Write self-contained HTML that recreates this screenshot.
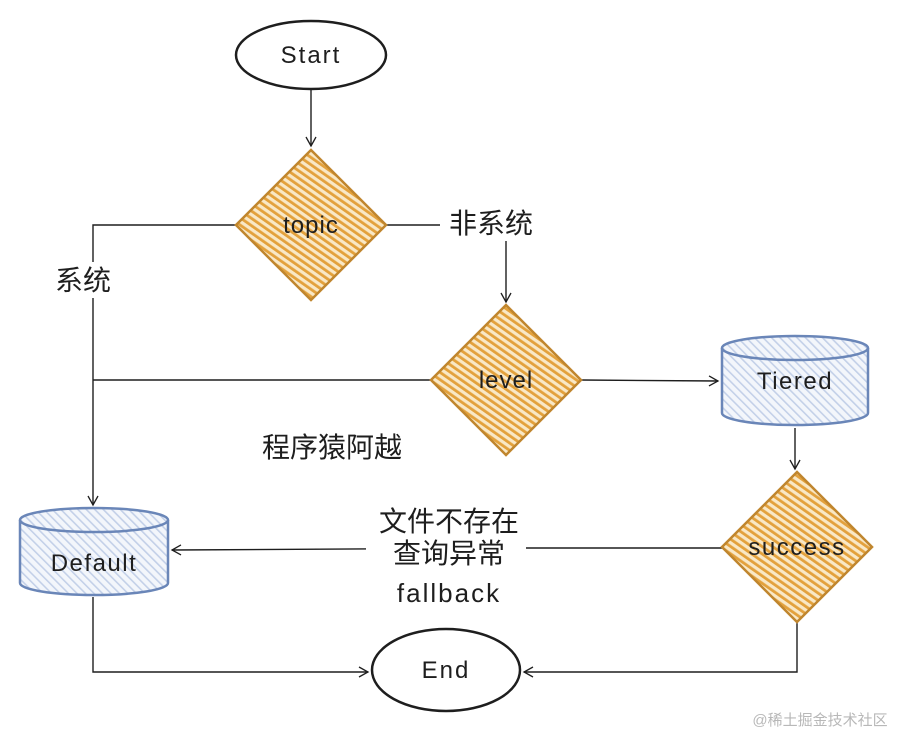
<!DOCTYPE html>
<html><head><meta charset="utf-8"><style>
html,body{margin:0;padding:0;background:#fff;}
svg text{font-family:"Liberation Sans","Noto Sans CJK SC",sans-serif;fill:#1e1e1e;}
</style></head><body>
<svg width="904" height="736" viewBox="0 0 904 736" xmlns="http://www.w3.org/2000/svg">
<defs>
<pattern id="ho" width="6" height="6" patternUnits="userSpaceOnUse" patternTransform="rotate(-55)">
<rect width="6" height="6" fill="#f9e8c6"/><rect width="2.8" height="6" fill="#e3a13c"/></pattern>
<pattern id="hb" width="6" height="6" patternUnits="userSpaceOnUse" patternTransform="rotate(-45)">
<rect width="6" height="6" fill="#f3f6fb"/><rect width="1.6" height="6" fill="#c3d0e8"/></pattern>
<marker id="a" markerWidth="12" markerHeight="12" refX="10" refY="6" orient="auto" markerUnits="userSpaceOnUse">
<path d="M1,1 L10,6 L1,11" fill="none" stroke="#1e1e1e" stroke-width="1.3"/></marker>
</defs>
<g fill="none" stroke="#1e1e1e" stroke-width="1.4">
<path d="M311,90 L311,146" marker-end="url(#a)"/>
<path d="M236,225 L93,225 L93,505" marker-end="url(#a)"/>
<path d="M386,225 L440,225"/>
<path d="M540,225 L506,225 L506,302" marker-end="url(#a)"/>
<path d="M431,380 L93,380"/>
<path d="M581,380 L718,381" marker-end="url(#a)"/>
<path d="M795,428 L795,469" marker-end="url(#a)"/>
<path d="M722,548 L370,548"/><path d="M525,548 L172,550" marker-end="url(#a)"/>
<path d="M93,597 L93,672 L368,672" marker-end="url(#a)"/>
<path d="M797,622 L797,672 L524,672" marker-end="url(#a)"/>
</g>
<rect x="366" y="505" width="160" height="104" fill="#fff"/>
<rect x="440" y="205" width="100" height="36" fill="#fff"/>
<rect x="50" y="262" width="70" height="36" fill="#fff"/>
<ellipse cx="311" cy="55" rx="75" ry="34" fill="#fff" stroke="#1e1e1e" stroke-width="2.5"/>
<text x="311" y="63" font-size="24" letter-spacing="2" text-anchor="middle">Start</text>
<ellipse cx="446" cy="670" rx="74" ry="41" fill="#fff" stroke="#1e1e1e" stroke-width="2.5"/>
<text x="446" y="678" font-size="24" letter-spacing="2" text-anchor="middle">End</text>
<g stroke="#c0862e" stroke-width="2.5" fill="url(#ho)">
<path d="M311,150 L386,225 L311,300 L236,225 Z"/>
<path d="M506,305 L581,380 L506,455 L431,380 Z"/>
<path d="M797,472 L872,547 L797,622 L722,547 Z"/>
</g>
<text x="311" y="233" font-size="24" letter-spacing="1" text-anchor="middle">topic</text>
<text x="506" y="388" font-size="24" letter-spacing="1" text-anchor="middle">level</text>
<text x="797" y="555" font-size="24" letter-spacing="1.5" text-anchor="middle">success</text>
<g stroke="#6a86b8" stroke-width="2.5" fill="url(#hb)">
<path d="M722,348 L722,413 A73,12 0 0 0 868,413 L868,348 A73,12 0 0 0 722,348 Z"/>
<path d="M722,348 A73,12 0 0 0 868,348" fill="none"/>
<path d="M20,520 L20,583 A74,12 0 0 0 168,583 L168,520 A74,12 0 0 0 20,520 Z"/>
<path d="M20,520 A74,12 0 0 0 168,520" fill="none"/>
</g>
<text x="795" y="389" font-size="24" letter-spacing="1.5" text-anchor="middle">Tiered</text>
<text x="94" y="571" font-size="24" letter-spacing="1.5" text-anchor="middle">Default</text>
<text x="491" y="233" font-size="28" text-anchor="middle">非系统</text>
<text x="83" y="290" font-size="28" text-anchor="middle">系统</text>
<text x="332" y="457" font-size="28" text-anchor="middle">程序猿阿越</text>
<text x="449" y="531" font-size="28" text-anchor="middle">文件不存在</text>
<text x="449" y="563" font-size="28" text-anchor="middle">查询异常</text>
<text x="449" y="602" font-size="26" letter-spacing="2" text-anchor="middle">fallback</text>
<text x="820" y="725" font-size="15" text-anchor="middle" style="fill:#b8b8b8">@稀土掘金技术社区</text>
</svg>
</body></html>
